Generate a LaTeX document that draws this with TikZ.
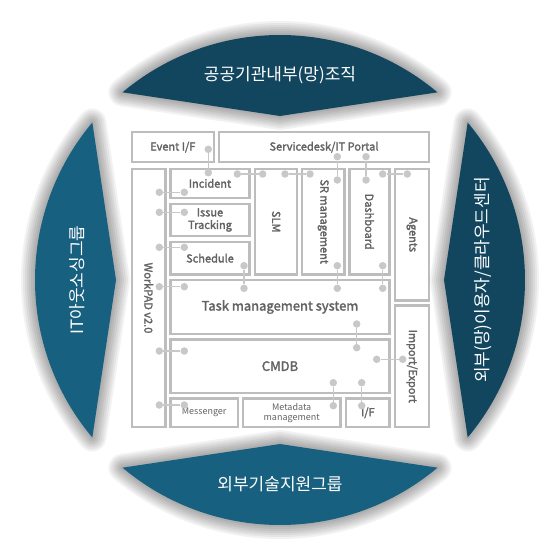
\documentclass[tikz,border=0pt]{standalone}
\usepackage{fontspec}
\setmainfont{Noto Sans CJK KR}
\newfontfamily\semibold[FakeBold=2]{Noto Sans CJK KR}
\definecolor{deepteal}{HTML}{12465F}
\definecolor{lightteal}{HTML}{17607F}
\definecolor{frame}{HTML}{BDBDBD}
\definecolor{plugc}{HTML}{C8C8C8}
\definecolor{labelc}{HTML}{636363}
\pgfdeclareradialshading{halo}{\pgfpoint{0bp}{0bp}}{color(0bp)=(white); color(34bp)=(white); color(43.7bp)=(black!12); color(49bp)=(white); color(50bp)=(white)}
\tikzset{module/.style = {draw=frame, line width=2.4pt, fill=white, inner sep=0, text=labelc,
                          font=\fontsize{11}{12.5}\semibold, align=center}}
\tikzset{plug/.style = {fill=plugc, circle, inner sep=0, minimum size=7.5}}
\tikzset{wire/.style = {draw=plugc, line width=1.3pt}}
\tikzset{banner/.style = {text=white, font=\fontsize{17}{20}\selectfont}}
\newcommand{\modbox}[7][]{\node [module, #1, minimum width={#5-#3-2.4}, minimum height={#6-#4-2.4}]
  (#2) at ({(#3+#5)/2}, {(#4+#6)/2}) {#7};}
\newcommand{\petal}[2]{%
  \foreach \w in {28,24,...,4}
    \draw [black, opacity=0.05, line width=\w pt, line join=round, shift={(280,280)}]
      ({#2-40}:245) arc [start angle={#2-40}, end angle={#2+40}, radius=245] -- (#2:164) -- cycle;
  \fill [#1, shift={(280,280)}]
      ({#2-40}:245) arc [start angle={#2-40}, end angle={#2+40}, radius=245] -- (#2:164) -- cycle;}

\begin{document}
\begin{tikzpicture}[x=1pt, y=-1pt]
    \useasboundingbox (0,0) rectangle (560,560);
    \shade [shading=halo] (280,280) circle [radius=280];

    \petal{deepteal}{-90}
    \petal{deepteal}{0}
    \petal{lightteal}{90}
    \petal{lightteal}{180}

    \node [banner] (north) at (280,75) {공공기관내부(망)조직};
    \node [banner] (east) at (483,280) {\rotatebox{90}{외부(망)이용자/클라우드센터}};
    \node [banner] (south) at (280,484) {외부기술지원그룹};
    \node [banner] (west) at (77,280) {\rotatebox{90}{IT아웃소싱그룹}};

    \modbox{eventif}{130.7}{131}{215}{163.3}{Event I/F}
    \modbox{portal}{218}{131}{430}{163.3}{Servicedesk/IT Portal}
    \modbox{workpad}{130.7}{167.7}{166.7}{428.3}{\rotatebox{-90}{WorkPAD v2.0}}
    \modbox{incident}{169.3}{167.7}{250.7}{199}{Incident}
    \modbox{issue}{169.3}{202.7}{250.7}{237.3}{Issue\\Tracking}
    \modbox{schedule}{169.3}{240.7}{250.7}{275.7}{Schedule}
    \modbox{slm}{254}{167.7}{298.3}{275.7}{\rotatebox{-90}{SLM}}
    \modbox{srmgmt}{300.7}{167.7}{345.7}{275.7}{\rotatebox{-90}{SR management}}
    \modbox{dashboard}{348.3}{167.7}{390.7}{275.7}{\rotatebox{-90}{Dashboard}}
    \modbox{agents}{394}{167.7}{430}{301.7}{\rotatebox{-90}{Agents}}
    \modbox[font=\fontsize{13}{15}\semibold]{task}{169.3}{279}{390.7}{335}{Task management system}
    \modbox[font=\fontsize{13}{15}\semibold]{cmdb}{169.3}{338.3}{390.7}{394}{CMDB}
    \modbox{importexport}{394}{304.3}{430}{428.3}{\rotatebox{-90}{Import/Export}}
    \modbox[font=\fontsize{9}{10}\selectfont]{messenger}{169.3}{397.3}{239}{428.3}{Messenger}
    \modbox[font=\fontsize{9}{10}\selectfont]{metadata}{241.7}{397.3}{341.7}{428.3}{Metadata\\management}
    \modbox{iface}{345}{397.3}{390.7}{428.3}{I/F}

    \foreach \xa/\ya/\xb/\yb [count=\i] in {208.3/149.3/208.3/172.7, 237.3/174/262.7/174, 285/174/310/174,
        337.3/156.7/337.3/180, 366/156.7/366/180, 382.7/174/407.3/174,
        159.3/192.3/184.3/192.3, 159.3/212.3/184.3/212.3, 159.3/247.3/184.3/247.3,
        159.3/286.7/184.3/286.7, 159.3/351/184.3/351, 159.3/405/184.3/405,
        244/265.7/244/288.3, 337.3/265.7/337.3/288.3, 382.7/265.7/382.7/288.3,
        356.7/324/356.7/347.7, 376.7/359.3/402.7/359.3, 333.3/382.7/333.3/405.7, 361.7/382.7/361.7/405.7}
    {
        \node [plug] (p\i a) at (\xa,\ya) {};
        \node [plug] (p\i b) at (\xb,\yb) {};
        \draw [wire] (p\i a) -- (p\i b);
    }
\end{tikzpicture}
\end{document}
